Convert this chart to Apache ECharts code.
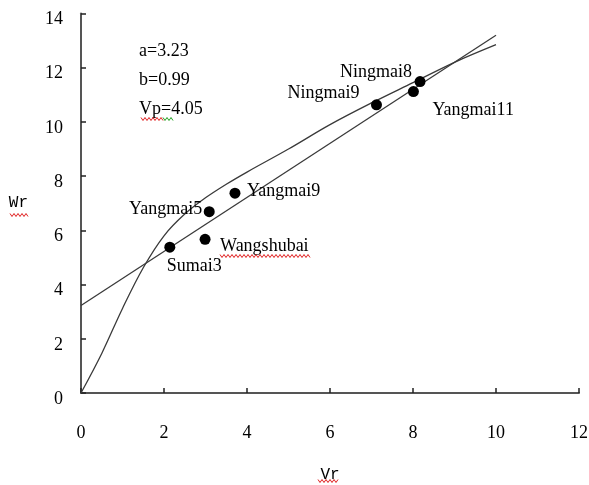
<!DOCTYPE html>
<html>
<head>
<meta charset="utf-8">
<script src="https://cdn.jsdelivr.net/npm/echarts@6/dist/echarts.min.js"></script>
<style>
html,body{margin:0;padding:0;background:#fff;}
#chart{width:589px;height:485px;}
</style>
</head>
<body>
<div id="chart"></div>
<script>
// ---- data ----
var xTicks = [0, 2, 4, 6, 8, 10, 12];
var yTicks = [0, 2, 4, 6, 8, 10, 12, 14];

// limiting curve
var curveVr = [0, 0.5, 1.0, 1.5, 2.0, 2.5, 3.0, 3.5, 4.0, 5.0, 6.0, 7.0, 8.0, 9.0, 10.0];
var curveWr = [0, 1.46, 3.12, 4.62, 5.8, 6.6, 7.2, 7.7, 8.15, 9.0, 9.9, 10.7, 11.45, 12.2, 12.85];

// regression line Wr = a + b Vr
var regVr = [0, 10];
var regWr = [3.23, 13.2];

// varieties
var names = ['Sumai3', 'Wangshubai', 'Yangmai5', 'Yangmai9', 'Ningmai9', 'Ningmai8', 'Yangmai11'];
var pointVr = [2.14, 2.99, 3.09, 3.71, 7.12, 8.17, 8.01];
var pointWr = [5.38, 5.67, 6.69, 7.37, 10.63, 11.49, 11.12];

var notes = ['a=3.23', 'b=0.99', 'Vp=4.05'];

// ---- label placement (style only) ----
var labelPlace = {
  'Sumai3':     {align: 'left',  offset: [-3, 19]},
  'Wangshubai': {align: 'left',  offset: [15, 7]},
  'Yangmai5':   {align: 'right', offset: [-7, -2]},
  'Yangmai9':   {align: 'left',  offset: [12, -2]},
  'Ningmai9':   {align: 'right', offset: [-17, -12]},
  'Ningmai8':   {align: 'right', offset: [-8, -9]},
  'Yangmai11':  {align: 'left',  offset: [19, 19]}
};

function zip(a, b) { return a.map(function (v, i) { return [v, b[i]]; }); }

function wavy(x0, x1, y, color) {
  var pts = [];
  var up = true;
  for (var x = x0; x <= x1; x += 2) { pts.push([x, up ? y - 1.5 : y + 1.5]); up = !up; }
  return {type: 'polyline', shape: {points: pts}, style: {stroke: color, lineWidth: 1, fill: null}, silent: true, z: 100};
}

var serif = '"Liberation Serif", "Times New Roman", serif';
var mono = '"Liberation Mono", "Courier New", monospace';

var scatterData = names.map(function (n, i) {
  var p = labelPlace[n];
  return {
    name: n,
    value: [pointVr[i], pointWr[i]],
    label: {show: true, position: 'inside', align: p.align, verticalAlign: 'middle', offset: p.offset}
  };
});

var chart = echarts.init(document.getElementById('chart'));
chart.setOption({
  backgroundColor: '#ffffff',
  animation: false,
  grid: {left: 81, right: 10, top: 13.5, bottom: 92, containLabel: false, outerBoundsMode: 'none'},
  xAxis: {
    type: 'value', min: xTicks[0], max: xTicks[xTicks.length - 1], interval: 2,
    name: 'Vr', nameLocation: 'middle', nameGap: 74,
    nameTextStyle: {fontFamily: mono, fontSize: 16, color: '#000'},
    axisLine: {lineStyle: {color: '#555', width: 2}},
    axisTick: {inside: true, length: 5, lineStyle: {color: '#222', width: 1.5}},
    axisLabel: {fontFamily: serif, fontSize: 18, color: '#000', margin: 31},
    splitLine: {show: false}
  },
  yAxis: {
    type: 'value', min: yTicks[0], max: yTicks[yTicks.length - 1], interval: 2,
    name: 'Wr', nameLocation: 'middle', nameGap: 53, nameRotate: 0,
    nameTextStyle: {fontFamily: mono, fontSize: 16, color: '#000'},
    axisLine: {lineStyle: {color: '#555', width: 2}},
    axisTick: {inside: true, length: 5, lineStyle: {color: '#222', width: 1.5}},
    axisLabel: {fontFamily: serif, fontSize: 18, color: '#000', margin: 18, verticalAlign: 'top', lineHeight: 12},
    splitLine: {show: false}
  },
  series: [
    {
      type: 'line', data: zip(curveVr, curveWr), smooth: 0.35, showSymbol: false, symbol: 'none',
      lineStyle: {color: '#3a3a3a', width: 1.3}, silent: true
    },
    {
      type: 'line', data: zip(regVr, regWr), showSymbol: false, symbol: 'none',
      lineStyle: {color: '#3a3a3a', width: 1.3}, silent: true
    },
    {
      type: 'scatter', data: scatterData, symbol: 'circle', symbolSize: 11,
      itemStyle: {color: '#000', opacity: 1},
      label: {fontFamily: serif, fontSize: 18, color: '#000', formatter: '{b}'},
      z: 10
    }
  ],
  graphic: [
    {type: 'text', left: 139, top: 42, style: {text: notes[0], font: '18px ' + serif, fill: '#000'}},
    {type: 'text', left: 139, top: 71, style: {text: notes[1], font: '18px ' + serif, fill: '#000'}},
    {type: 'text', left: 139, top: 100, style: {text: notes[2], font: '18px ' + serif, fill: '#000'}},
    wavy(141, 163, 119, '#e02020'),
    wavy(163, 174, 119, '#20a020'),
    wavy(10, 28, 215, '#e02020'),
    wavy(318, 338, 481, '#e02020'),
    wavy(220, 310, 256, '#e02020')
  ]
});
</script>
</body>
</html>
